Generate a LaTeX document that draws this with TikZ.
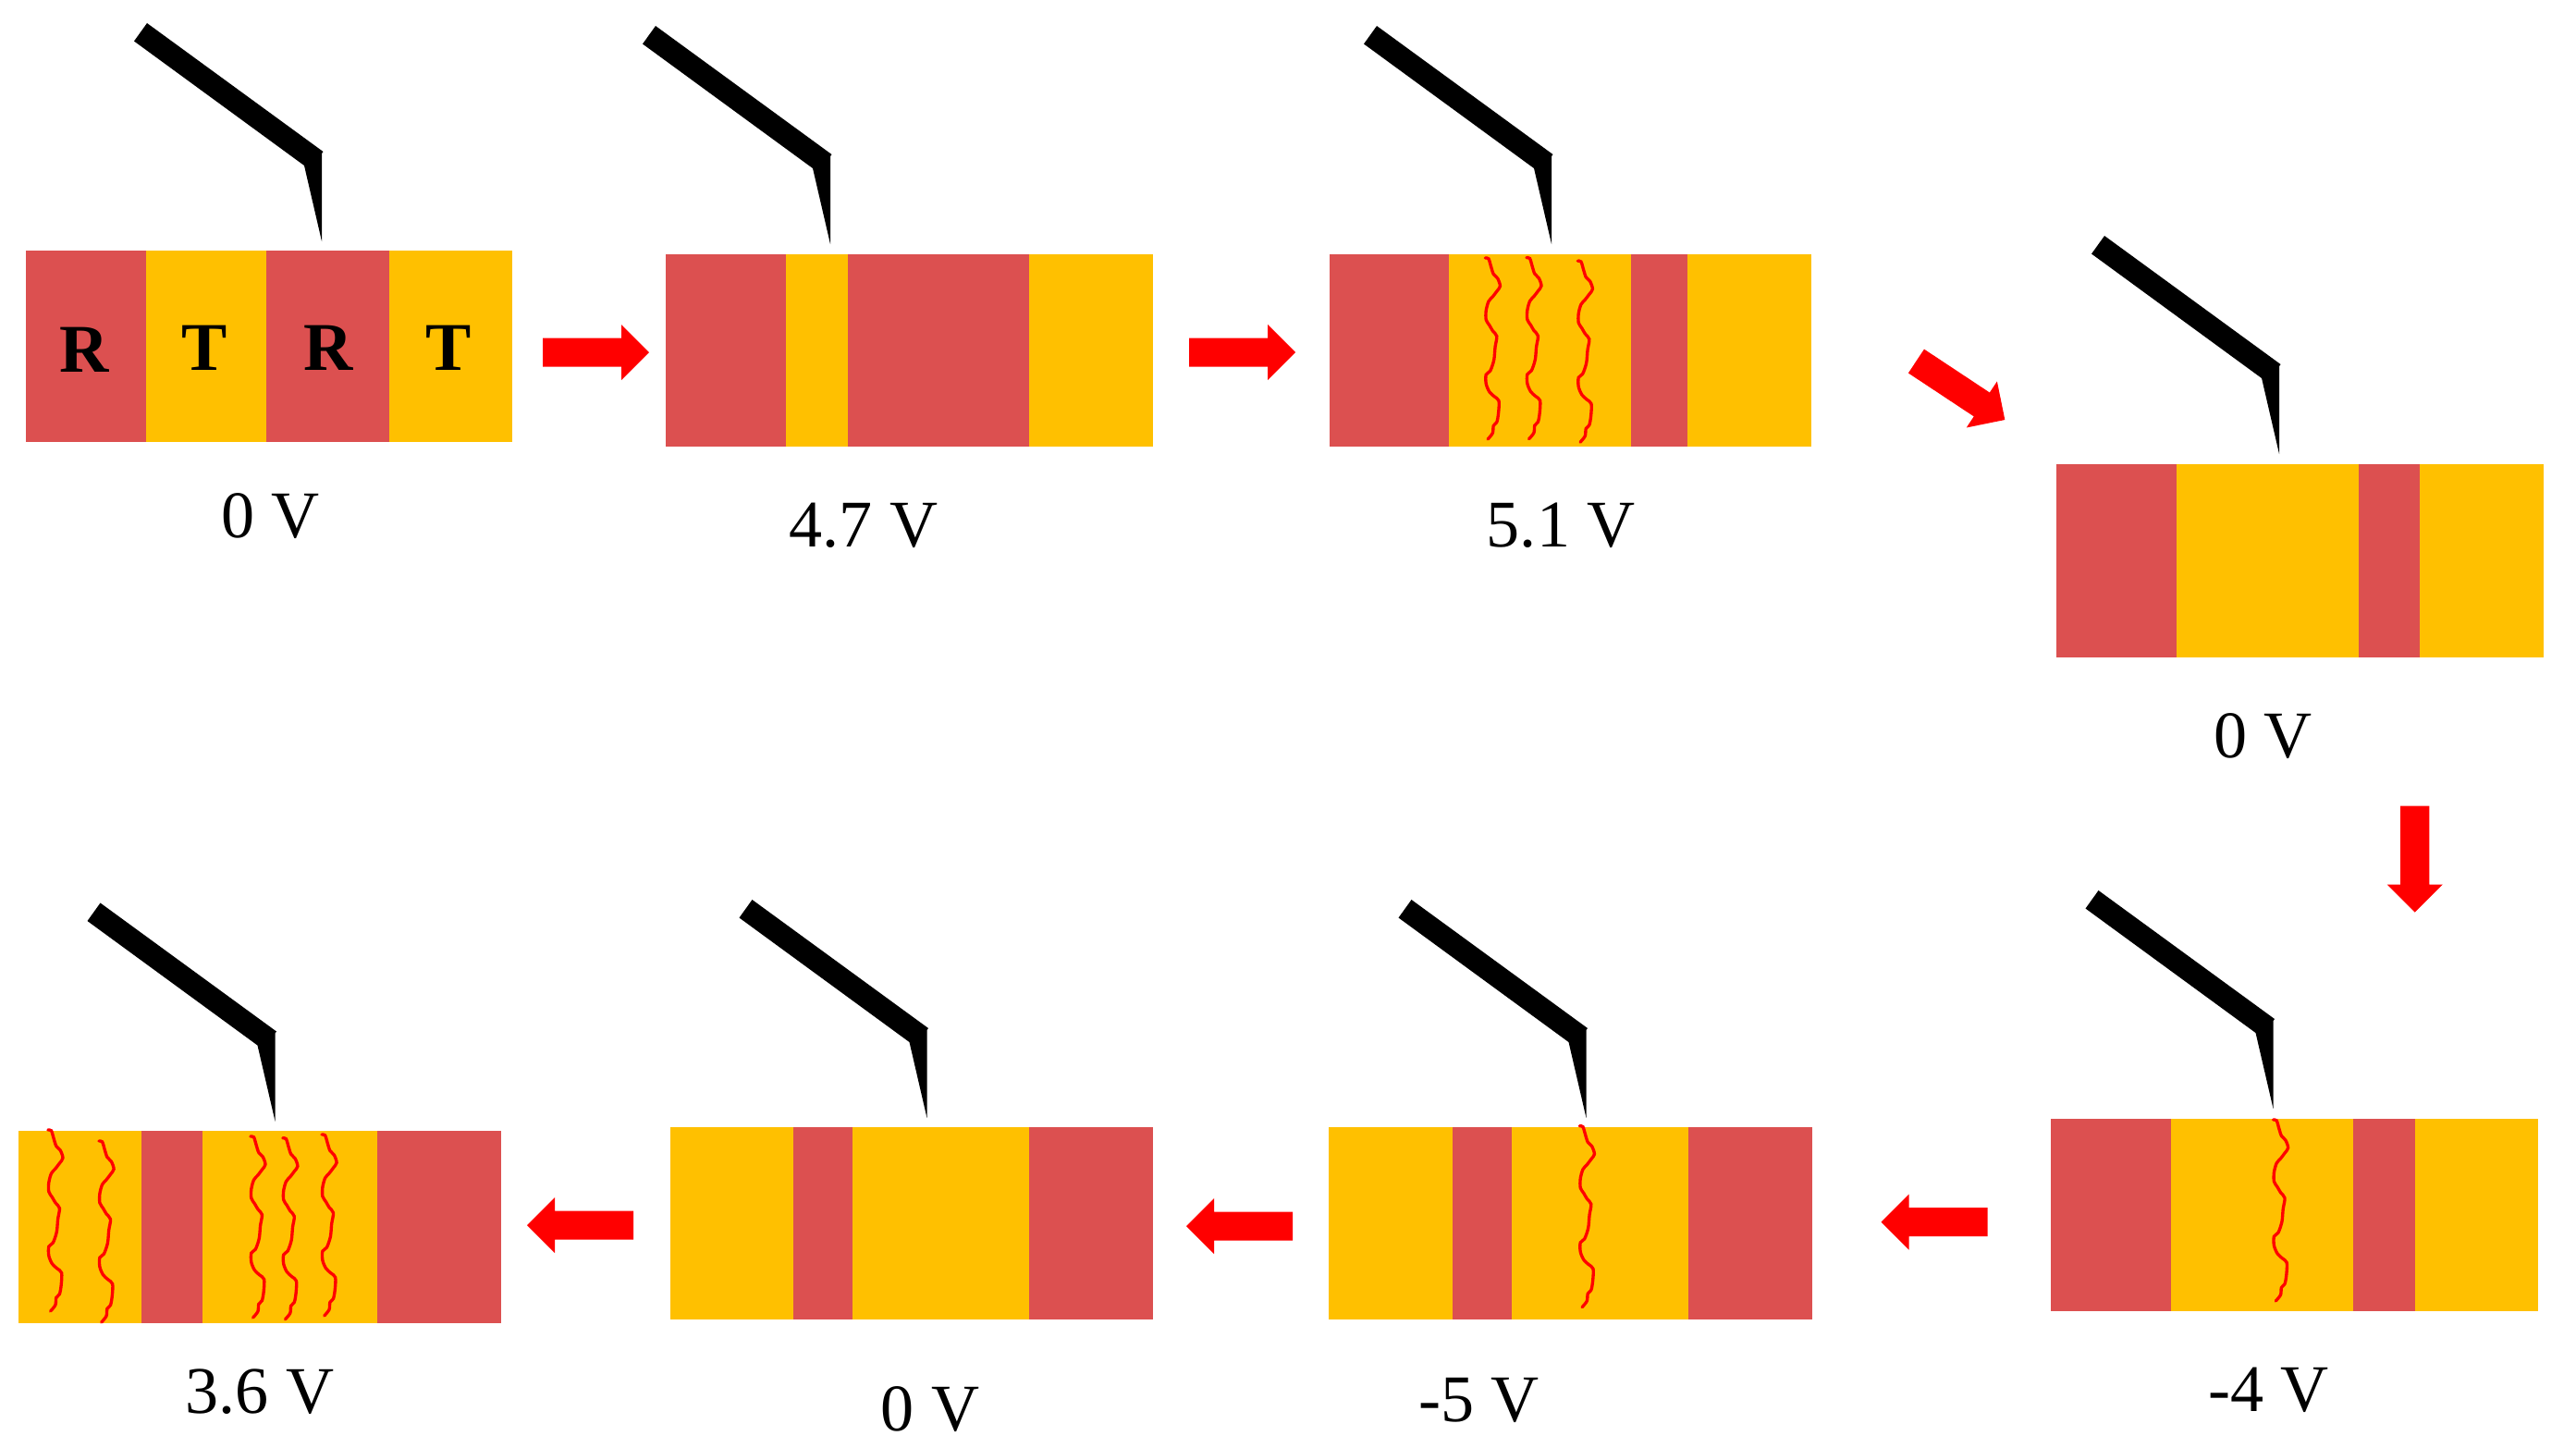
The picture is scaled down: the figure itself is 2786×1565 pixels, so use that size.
\documentclass[tikz,border=0pt]{standalone}
\usepackage{fontspec}
\setmainfont{Liberation Serif}
\definecolor{rlayer}{RGB}{220,80,80}
\definecolor{tlayer}{RGB}{255,192,0}
\tikzset{
	rfill/.style={fill=rlayer},
	tfill/.style={fill=tlayer},
	volt/.style={anchor=base, inner sep=0pt, font=\fontsize{20.5}{24}\selectfont},
	phase/.style={anchor=base, inner sep=0pt, font=\fontsize{21}{24}\selectfont\bfseries},
	probe/.pic={
		\fill[black] (0,0)--(0,-95)--(1.5,-97)--(-189,-236)--(-203,-216.5)--(-19,-82)--cycle;
	},
	blockarrow/.pic={
		\fill[red] (0,0)--(-30,-30)--(-30,-15.5)--(-115,-15.5)--(-115,15.5)--(-30,15.5)--(-30,30)--cycle;
	},
	crack/.pic={
		\draw[red, line width=0.95pt, line cap=round] plot[smooth, tension=.5] coordinates {(0,0) (3.6,.8) (6.3,9.5) (8.9,17.4) (13.4,22.1) (16.1,30.4) (12.5,36) (8,41.9) (3.6,47) (.9,56.9) (.9,66.8) (4.5,72.7) (8,78.7) (12.5,84.6) (10.7,96.4) (9.4,110.3) (5.4,122.1) (.9,126.1) (.9,136) (4.5,144.7) (9.8,149.8) (14.7,154.5) (14.3,167.6) (12.5,177.5) (8.9,181.4) (8,189.3) (2.7,196)};
	}
}
\begin{document}
\begin{tikzpicture}[x=0.01cm, y=-0.01cm]
	\useasboundingbox (0,0) rectangle (2786,1565);
	
	%top row, panel 1
	\fill[rfill] (27.5,270.5) rectangle (158,478);
	\fill[tfill] (158,270.5) rectangle (287.5,478);
	\fill[rfill] (287.5,270.5) rectangle (421,478);
	\fill[tfill] (421,270.5) rectangle (554,478);
	\node[phase] (r1) at (91,402) {R};
	\node[phase] (t1) at (221,400) {T};
	\node[phase] (r2) at (355,400) {R};
	\node[phase] (t2) at (485,400) {T};
	\pic at (348,261) {probe};
	\node[volt] (v1) at (292.5,581) {0 V};
	
	%panel 2
	\fill[rfill] (719.5,275) rectangle (850,483);
	\fill[tfill] (850,275) rectangle (917,483);
	\fill[rfill] (917,275) rectangle (1113,483);
	\fill[tfill] (1113,275) rectangle (1247,483);
	\pic at (898,264) {probe};
	\node[volt] (v2) at (934,591) {4.7 V};
	
	%panel 3
	\fill[rfill] (1437.5,275) rectangle (1567,483);
	\fill[tfill] (1567,275) rectangle (1764,483);
	\fill[rfill] (1764,275) rectangle (1825,483);
	\fill[tfill] (1825,275) rectangle (1959,483);
	\pic at (1606.3,279) {crack};
	\pic at (1650.9,278.7) {crack};
	\pic at (1706.3,282.2) {crack};
	\pic at (1678,264) {probe};
	\node[volt] (v3) at (1688,591) {5.1 V};
	
	%panel 4, right side
	\fill[rfill] (2224,502) rectangle (2354,711);
	\fill[tfill] (2354,502) rectangle (2551,711);
	\fill[rfill] (2551,502) rectangle (2617,711);
	\fill[tfill] (2617,502) rectangle (2751,711);
	\pic at (2465,491) {probe};
	\node[volt] (v4) at (2447.5,819) {0 V};
	
	%bottom row, panel 5
	\fill[rfill] (2218,1210) rectangle (2348,1418);
	\fill[tfill] (2348,1210) rectangle (2545,1418);
	\fill[rfill] (2545,1210) rectangle (2611.5,1418);
	\fill[tfill] (2611.5,1210) rectangle (2745,1418);
	\pic at (2458.5,1211) {crack};
	\pic at (2458.5,1199) {probe};
	\node[volt] (v5) at (2453.5,1526.5) {-4 V};
	
	%panel 6
	\fill[tfill] (1437,1219) rectangle (1571,1427);
	\fill[rfill] (1571,1219) rectangle (1634.5,1427);
	\fill[tfill] (1634.5,1219) rectangle (1825.5,1427);
	\fill[rfill] (1825.5,1219) rectangle (1959.5,1427);
	\pic at (1708.3,1217.7) {crack};
	\pic at (1715.5,1209) {probe};
	\node[volt] (v6) at (1599.5,1537) {-5 V};
	
	%panel 7
	\fill[tfill] (724.5,1219) rectangle (858,1427);
	\fill[rfill] (858,1219) rectangle (922,1427);
	\fill[tfill] (922,1219) rectangle (1113,1427);
	\fill[rfill] (1113,1219) rectangle (1247,1427);
	\pic at (1002.5,1209) {probe};
	\node[volt] (v7) at (1006,1547) {0 V};
	
	%panel 8
	\fill[tfill] (19.5,1222.5) rectangle (153,1431);
	\fill[rfill] (153,1222.5) rectangle (219,1431);
	\fill[tfill] (219,1222.5) rectangle (408,1431);
	\fill[rfill] (408,1222.5) rectangle (541.5,1431);
	\pic at (51.9,1222) {crack};
	\pic at (107,1234) {crack};
	\pic at (270.9,1229) {crack};
	\pic at (305.8,1230.8) {crack};
	\pic at (348,1227) {crack};
	\pic at (297.5,1212.5) {probe};
	\node[volt] (v8) at (281,1528) {3.6 V};
	
	%arrows between panels
	\pic at (702,381) {blockarrow};
	\pic at (1401,381) {blockarrow};
	\pic[rotate=-33.5] at (2168.3,454) {blockarrow};
	\pic[rotate=-90] at (2611.7,986.7) {blockarrow};
	\pic[rotate=180] at (2034.5,1321.5) {blockarrow};
	\pic[rotate=180] at (1283,1326) {blockarrow};
	\pic[rotate=180] at (570,1325) {blockarrow};
\end{tikzpicture}
\end{document}
